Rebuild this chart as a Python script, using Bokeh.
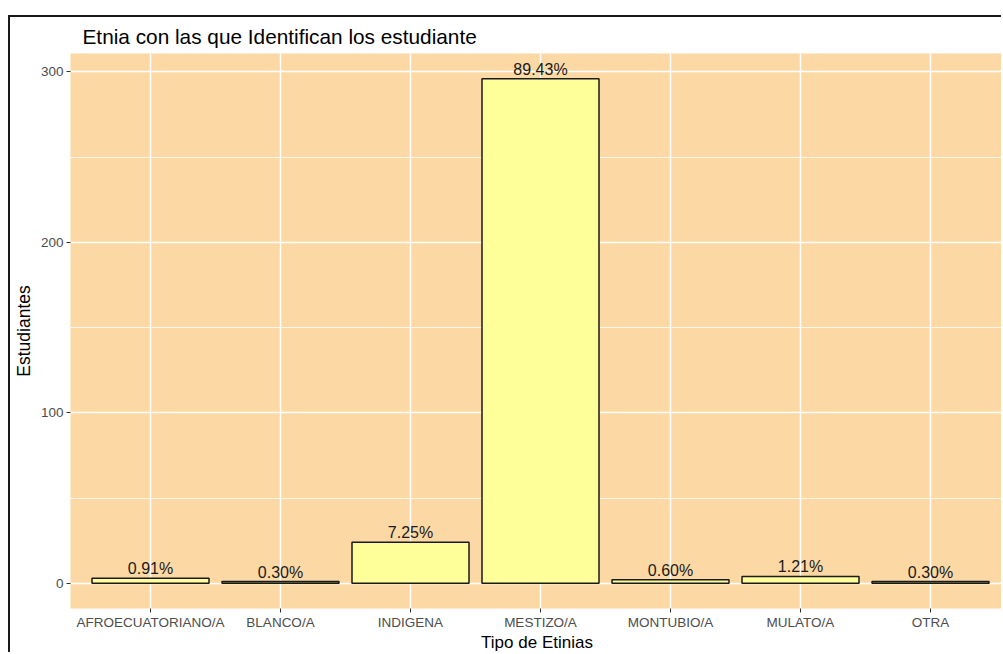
from bokeh.plotting import figure
from bokeh.models import Range1d, FixedTicker, Title
from bokeh.embed import file_html
from bokeh.resources import INLINE
from bokeh.core.properties import value

# ---- data ----
categories = ["AFROECUATORIANO/A", "BLANCO/A", "INDIGENA", "MESTIZO/A",
              "MONTUBIO/A", "MULATO/A", "OTRA"]
counts = [3, 1, 24, 296, 2, 4, 1]
pct_labels = ["0.91%", "0.30%", "7.25%", "89.43%", "0.60%", "1.21%", "0.30%"]
y_ticks = [0, 100, 200, 300]
y_minor = [50, 150, 250]

positions = list(range(1, len(categories) + 1))

FONT = "Liberation Sans"
W, H = 993, 637
MB_L, MB_R, MB_T, MB_B = 60, 0, 36, 46

pad = 0.05 * max(counts)
y_start, y_end = -pad, max(counts) + pad

p = figure(width=W, height=H, output_backend="svg", toolbar_location=None,
           x_range=Range1d(0.3846, 7.5615), y_range=Range1d(y_start, y_end),
           min_border_left=MB_L, min_border_right=MB_R,
           min_border_top=MB_T, min_border_bottom=MB_B,
           background_fill_color="#FCD8A4", border_fill_color="white",
           outline_line_color=None)

# outer frame line of the reference (left and top edges)
p.styles = {"border-left": "2px solid #1a1a1a", "border-top": "2px solid #1a1a1a",
            "margin-left": "8px", "margin-top": "15px"}

p.title.text = "Etnia con las que Identifican los estudiante"
p.title.text_font = FONT
p.title.text_font_size = "20.8px"
p.title.text_font_style = "normal"
p.title.text_color = "black"
p.title.offset = 12
p.title.standoff = 11

p.vbar(x=positions, width=0.9, top=counts, bottom=0,
       fill_color="#FFFF99", line_color="#1a1a1a", line_width=1.5)

p.text(x=positions, y=counts, text=pct_labels, text_align="center",
       text_baseline="bottom", y_offset=-1,
       text_font=value(FONT), text_font_size="16px", text_color="#1a1a1a")

# axes
p.xaxis.ticker = FixedTicker(ticks=positions)
p.xaxis.major_label_overrides = {pos: c for pos, c in zip(positions, categories)}
p.yaxis.ticker = FixedTicker(ticks=y_ticks, minor_ticks=y_minor)

for ax in (p.xaxis[0], p.yaxis[0]):
    ax.axis_line_color = None
    ax.minor_tick_line_color = None
    ax.major_tick_line_color = "#333333"
    ax.major_tick_out = 4
    ax.major_tick_in = 0
    ax.major_label_text_font = FONT
    ax.major_label_text_font_size = "13.5px"
    ax.major_label_text_color = "#4d4d4d"
    ax.major_label_standoff = 3
p.xaxis.major_label_standoff = 2

p.yaxis.axis_label = "Estudiantes"
p.yaxis.axis_label_text_font = FONT
p.yaxis.axis_label_text_font_size = "17.5px"
p.yaxis.axis_label_text_font_style = "normal"
p.yaxis.axis_label_text_color = "black"
p.yaxis.axis_label_standoff = 4

# grids
p.xgrid.ticker = FixedTicker(ticks=positions)
p.xgrid.grid_line_color = "white"
p.xgrid.grid_line_width = 1.5
p.ygrid.grid_line_color = "white"
p.ygrid.grid_line_width = 1.5
p.ygrid.minor_grid_line_color = "white"
p.ygrid.minor_grid_line_width = 0.8

# x axis title
xtitle = Title(text="Tipo de Etinias", align="center", text_font=FONT,
               text_font_size="17px", text_font_style="normal",
               text_color="black", standoff=-3)
p.add_layout(xtitle, "below")

open("out.html", "w").write(file_html(p, INLINE))
